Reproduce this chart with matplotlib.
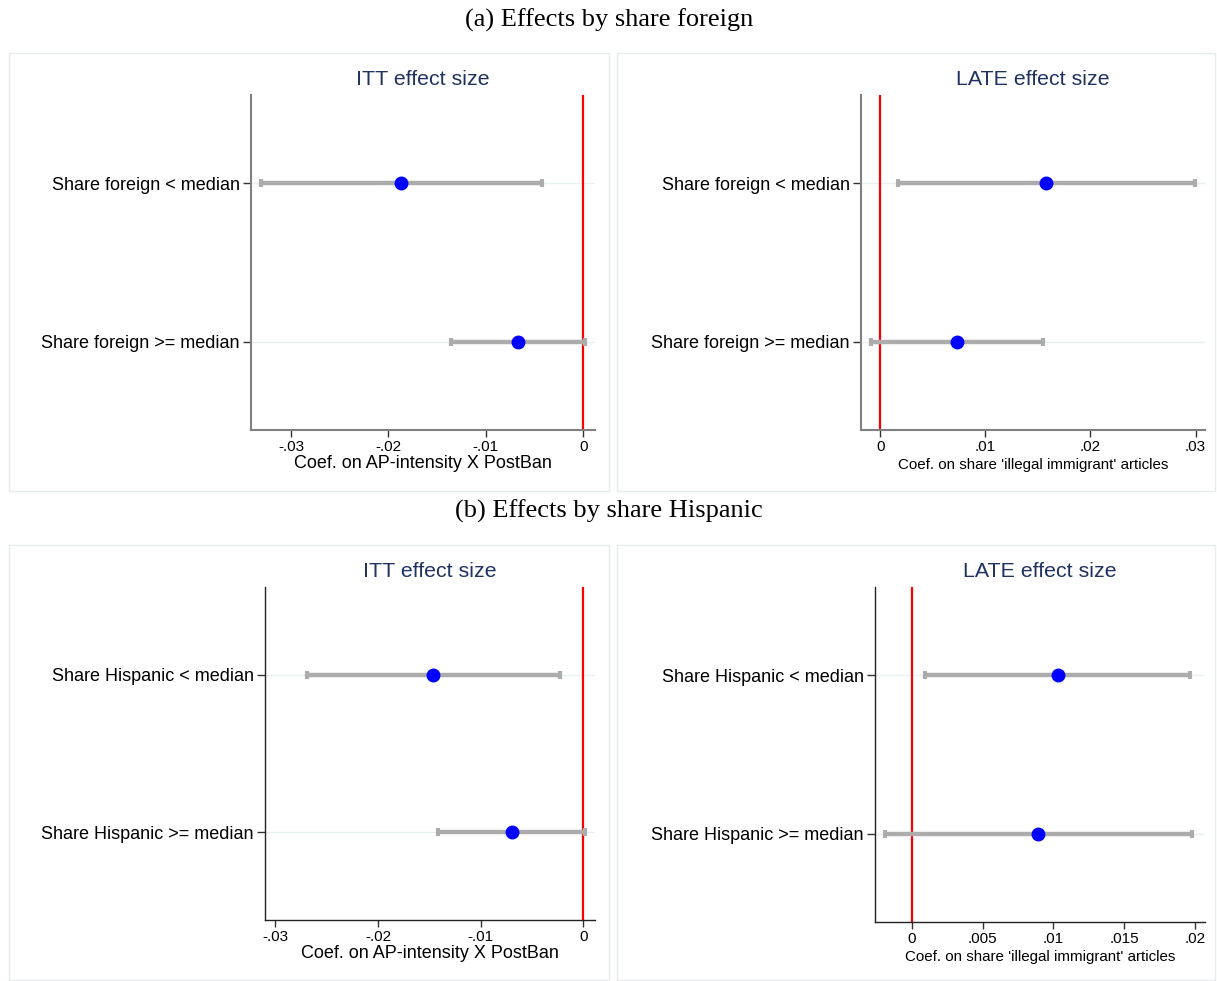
import matplotlib
matplotlib.use("Agg")
import matplotlib.pyplot as plt
from matplotlib.patches import Rectangle
from matplotlib.ticker import FuncFormatter

# ---- data -------------------------------------------------------------
foreign_labels = ["Share foreign < median", "Share foreign >= median"]
hispanic_labels = ["Share Hispanic < median", "Share Hispanic >= median"]

itt_foreign_coef = [-0.0187, -0.00674]
itt_foreign_lo = [-0.0331, -0.0136]
itt_foreign_hi = [-0.00424, 0.0002]

late_foreign_coef = [0.01578, 0.00728]
late_foreign_lo = [0.00166, -0.00092]
late_foreign_hi = [0.02997, 0.01552]

itt_hispanic_coef = [-0.0146, -0.00697]
itt_hispanic_lo = [-0.0269, -0.01417]
itt_hispanic_hi = [-0.00227, 0.00016]

late_hispanic_coef = [0.0103, 0.00894]
late_hispanic_lo = [0.00094, -0.00188]
late_hispanic_hi = [0.01964, 0.01976]

itt_ticks = [-0.03, -0.02, -0.01, 0.0]
late_foreign_ticks = [0.0, 0.01, 0.02, 0.03]
late_hispanic_ticks = [0.0, 0.005, 0.01, 0.015, 0.02]

# ---- figure -----------------------------------------------------------
W, H = 1217, 981
fig = plt.figure(figsize=(W / 100, H / 100), dpi=100)
SANS = "Liberation Sans"
SERIF = "Liberation Serif"


def box(l, t, r, b):
    return [l / W, 1 - b / H, (r - l) / W, (b - t) / H]


def stata_fmt(v, _pos=None):
    if abs(v) < 1e-12:
        return "0"
    s = f"{v:.3f}".rstrip("0")
    return s.replace("0.", ".")


# panel frames
for (l, t, r, b) in [(9, 53, 609, 491), (617, 53, 1215, 491),
                     (9, 545, 609, 980), (617, 545, 1215, 980)]:
    fig.patches.append(Rectangle((l / W, 1 - b / H), (r - l) / W, (b - t) / H,
                                 transform=fig.transFigure, fill=False,
                                 edgecolor="#e6ebec", linewidth=1.0))

fig.text(609 / W, 1 - 20 / H, "(a) Effects by share foreign", ha="center",
         va="center", fontsize=19, family=SERIF)
fig.text(609 / W, 1 - 511 / H, "(b) Effects by share Hispanic", ha="center",
         va="center", fontsize=19, family=SERIF)


def coef_panel(rect, title, labels, coef, lo, hi, xlim, ticks, xlabel,
               xlabel_size, xlabel_pad, spine_color, spine_w):
    ax = fig.add_axes(box(*rect))
    rows = [1, 2]
    for y in rows:
        ax.axhline(y, color="#e8f0f2", lw=1.0, zorder=0)
    ax.axvline(0, color="#ff0000", lw=1.6, zorder=1)
    err = [[c - l for c, l in zip(coef, lo)], [h - c for c, h in zip(coef, hi)]]
    ax.errorbar(coef, rows, xerr=err, fmt="none", ecolor="#acacac",
                elinewidth=3.2, capsize=3, capthick=3, zorder=2)
    ax.plot(coef, rows, "o", color="#0000ff", markersize=9, zorder=3)
    ax.set_xlim(*xlim)
    ax.set_ylim(2.56, 0.44)
    ax.set_yticks(rows)
    ax.set_yticklabels(labels, fontsize=13, family=SANS)
    ax.set_xticks(ticks)
    ax.xaxis.set_major_formatter(FuncFormatter(stata_fmt))
    for lab in ax.get_xticklabels():
        lab.set_family(SANS)
        lab.set_fontsize(11)
    ax.tick_params(axis="x", length=5, width=1, color="#333333", pad=2)
    ax.tick_params(axis="y", length=6, width=1, color="#333333", pad=2)
    ax.set_xlabel(xlabel, fontsize=xlabel_size, family=SANS, labelpad=xlabel_pad)
    for side in ("top", "right"):
        ax.spines[side].set_visible(False)
    for side in ("left", "bottom"):
        ax.spines[side].set_color(spine_color)
        ax.spines[side].set_linewidth(spine_w)
    ax.set_title(title, fontsize=15.4, family=SANS, color="#1f3260", pad=7)
    return ax


itt_xlabel = "Coef. on AP-intensity X PostBan"
late_xlabel = "Coef. on share 'illegal immigrant' articles"

coef_panel((251, 95, 595, 430), "ITT effect size", foreign_labels,
           itt_foreign_coef, itt_foreign_lo, itt_foreign_hi,
           (-0.0341, 0.0012), itt_ticks, itt_xlabel, 13, 1, "#808080", 1.5)
coef_panel((861, 95, 1205, 430), "LATE effect size", foreign_labels,
           late_foreign_coef, late_foreign_lo, late_foreign_hi,
           (-0.00184, 0.0309), late_foreign_ticks, late_xlabel, 10.9, 3, "#808080", 1.5)
coef_panel((265, 587, 595, 920), "ITT effect size", hispanic_labels,
           itt_hispanic_coef, itt_hispanic_lo, itt_hispanic_hi,
           (-0.031, 0.00114), itt_ticks, itt_xlabel, 13, 1, "#222222", 1.0)
coef_panel((875, 587, 1205, 922), "LATE effect size", hispanic_labels,
           late_hispanic_coef, late_hispanic_lo, late_hispanic_hi,
           (-0.00259, 0.0207), late_hispanic_ticks, late_xlabel, 10.9, 3, "#222222", 1.0)

fig.savefig("out.png", dpi=100, facecolor="white")
